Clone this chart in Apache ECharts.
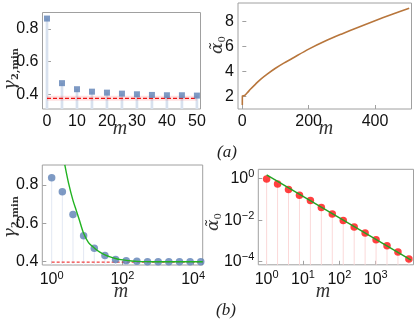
<!DOCTYPE html>
<html>
<head>
<meta charset="utf-8">
<script src="https://cdn.jsdelivr.net/npm/echarts@6/dist/echarts.min.js"></script>
<style>
html,body{margin:0;padding:0;background:#fff}
#chart{width:415px;height:321px}
</style>
</head>
<body>
<div id="chart"></div>
<script>
// (a) left : gamma_2,min against m
var mA = [0, 5, 10, 15, 20, 25, 30, 35, 40, 45, 50];
var gammaA = [0.863, 0.468, 0.431, 0.416, 0.410, 0.404, 0.400, 0.396, 0.394, 0.394, 0.392];
var limitA = 0.375;

// (a) right : alpha_0 against m
var mCurve = [0, 0.3, 7, 15, 25, 40, 55, 75, 100, 125, 150, 200, 250, 300, 350, 400, 450, 503];
var alphaCurve = [1.33, 2.05, 2.08, 2.3, 2.6, 3.0, 3.38, 3.8, 4.27, 4.68, 5.05, 5.8, 6.45, 7.02, 7.56, 8.08, 8.58, 9.08];

// (b) left : gamma_2,min against m (log)
var mB = [1, 2, 4, 8, 16, 32, 64, 128, 256, 512, 1024, 2048, 4096, 8192, 16384];
var gammaB = [0.838, 0.765, 0.646, 0.535, 0.470, 0.432, 0.412, 0.405, 0.402, 0.400, 0.400, 0.400, 0.400, 0.400, 0.400];
var fitMB = [2.35, 3, 4, 5, 6, 8, 11, 16, 23, 32, 45, 64, 90, 128, 181, 256, 512, 1024, 16384, 18600];
var fitGammaB = [0.905, 0.81, 0.72, 0.665, 0.62, 0.548, 0.50, 0.472, 0.45, 0.436, 0.425, 0.417, 0.411, 0.407, 0.404, 0.402, 0.4005, 0.4, 0.4, 0.4];
var limitB = 0.398;

// (b) right : alpha_0 against m (log-log)
var mB2 = [1, 2, 4, 8, 16, 32, 64, 128, 256, 512, 1024, 2048, 4096, 8192];
var alphaB = [0.96, 0.55, 0.30, 0.16, 0.088, 0.041, 0.020, 0.0096, 0.0047, 0.0024, 0.00114, 0.00058, 0.00029, 0.000135];
var fitMB2 = [1, 9400];
var fitAlphaB = [1.5, 0.00012];

var ticksXA = [0, 10, 20, 30, 40, 50];
var ticksGamma = [0.4, 0.6, 0.8];
var ticksXA2 = [0, 200, 400];
var ticksAlpha = [2, 4, 6, 8];
var ticksXB = [1, 100, 10000];
var ticksXB2 = [1, 10, 100, 1000];
var ticksAlphaB = [1, 0.01, 0.0001];

function pairs(xs, ys) {
  return xs.map(function (x, i) { return [x, ys[i]]; });
}

var frameColor = '#a0a0a0';
var tickFont = 'Liberation Sans';
var blue = '#5e81b5';

function powLabel(v) {
  var e = Math.round(Math.log(v) / Math.LN10);
  return '{b|10}{s|' + (e < 0 ? '\u2212' + (-e) : e) + '}';
}
var powRich = {
  b: {fontSize: 16, fontFamily: tickFont, color: '#111'},
  s: {fontSize: 11, fontFamily: tickFont, color: '#111', padding: [0, 0, 9, 0]}
};

function xAxisOf(gi, type, min, max, ticks, fmt) {
  var label = {customValues: ticks, fontSize: 16, fontFamily: tickFont, color: '#111', margin: 5};
  if (fmt) { label.formatter = fmt; label.rich = powRich; }
  return {
    type: type, gridIndex: gi, min: min, max: max,
    axisLine: {show: false}, splitLine: {show: false},
    axisTick: {customValues: ticks, inside: true, length: 4, lineStyle: {color: frameColor}},
    axisLabel: label
  };
}
function yAxisOf(gi, type, min, max, ticks, fmt) {
  var a = xAxisOf(gi, type, min, max, ticks, fmt);
  a.axisLabel.margin = 4;
  return a;
}

function stems(xi, data, color, width) {
  return {
    type: 'custom', xAxisIndex: xi, yAxisIndex: xi, data: data, silent: true, z: 1,
    encode: {x: 0, y: 1},
    renderItem: function (params, api) {
      var p = api.coord([api.value(0), api.value(1)]);
      var yb = params.coordSys.y + params.coordSys.height;
      return {type: 'line', shape: {x1: p[0], y1: p[1], x2: p[0], y2: yb},
        style: {stroke: color, lineWidth: width}};
    }
  };
}

function yName(x, y, main, sub, bold) {
  return {type: 'text', x: x, y: y, rotation: Math.PI / 2,
    style: {text: '{g|' + main + '}{s|' + sub + '}', align: 'center', verticalAlign: 'middle',
      rich: {g: {fontSize: 17, fontFamily: 'DejaVu Serif', fontStyle: 'italic', fill: '#333'},
             s: {fontSize: 10, fontFamily: 'DejaVu Serif', fontWeight: bold ? 'bold' : 'normal', fill: '#333', padding: [8, 0, 0, 0]}}}};
}
function mName(x, y) {
  return {type: 'text', x: x, y: y, style: {text: 'm', align: 'center', verticalAlign: 'middle',
    font: 'italic 20px "Liberation Serif"', fill: '#333'}};
}

var chart = echarts.init(document.getElementById('chart'));
var option = {
  animation: false,
  grid: [
    {left: 42.5, top: 12.5, width: 158, height: 96.5, show: true, borderColor: frameColor, borderWidth: 1},
    {left: 238, top: 3, width: 173.5, height: 106, show: true, borderColor: frameColor, borderWidth: 1},
    {left: 42.3, top: 165, width: 160.4, height: 100, show: true, borderColor: frameColor, borderWidth: 1},
    {left: 258.3, top: 169.3, width: 155.2, height: 95.5, show: true, borderColor: frameColor, borderWidth: 1}
  ],
  xAxis: [
    xAxisOf(0, 'value', -1.5, 51.2, ticksXA),
    xAxisOf(1, 'value', -13, 510, ticksXA2),
    xAxisOf(2, 'log', 0.543, 18600, ticksXB, powLabel),
    xAxisOf(3, 'log', 0.59, 10965, ticksXB2, powLabel)
  ],
  yAxis: [
    yAxisOf(0, 'value', 0.31, 0.9, ticksGamma, function (v) { return v.toFixed(1); }),
    yAxisOf(1, 'value', 1.0, 9.5, ticksAlpha),
    yAxisOf(2, 'value', 0.383, 0.904, ticksGamma, function (v) { return v.toFixed(1); }),
    yAxisOf(3, 'log', 0.000071, 2.8, ticksAlphaB, powLabel)
  ],
  series: [
    // (a) left
    stems(0, pairs(mA, gammaA), '#d8e1ee', 2.7),
    {type: 'line', xAxisIndex: 0, yAxisIndex: 0, data: [[0, limitA], [50, limitA]], symbol: 'none', z: 2,
      lineStyle: {color: 'rgba(255,0,0,0.12)', width: 5}},
    {type: 'line', xAxisIndex: 0, yAxisIndex: 0, data: [[0, limitA], [50, limitA]], symbol: 'none', z: 3,
      lineStyle: {color: '#ee1111', width: 1.3, type: [4, 2]}},
    {type: 'scatter', xAxisIndex: 0, yAxisIndex: 0, data: pairs(mA, gammaA), symbol: 'rect', symbolSize: 6, z: 4,
      itemStyle: {color: blue}},
    // (a) right
    {type: 'line', xAxisIndex: 1, yAxisIndex: 1, data: pairs(mCurve, alphaCurve), symbol: 'none', smooth: 0.3,
      lineStyle: {color: '#b8763c', width: 1.6}},
    // (b) left
    stems(2, pairs(mB, gammaB), '#e3e8f3', 1),
    {type: 'line', xAxisIndex: 2, yAxisIndex: 2, data: [[1, limitB], [18600, limitB]], symbol: 'none', z: 2,
      lineStyle: {color: '#ee1111', width: 1, type: [3, 2]}},
    {type: 'scatter', xAxisIndex: 2, yAxisIndex: 2, data: pairs(mB, gammaB), symbolSize: 7.5, z: 3,
      itemStyle: {color: blue}},
    {type: 'line', xAxisIndex: 2, yAxisIndex: 2, data: pairs(fitMB, fitGammaB), symbol: 'none', smooth: 0.3, z: 4,
      lineStyle: {color: '#22b322', width: 1.4}},
    // (b) right
    stems(3, pairs(mB2, alphaB), '#fbd9d9', 1),
    {type: 'scatter', xAxisIndex: 3, yAxisIndex: 3, data: pairs(mB2, alphaB), symbolSize: 7.5, z: 3,
      itemStyle: {color: '#ff1111'}},
    {type: 'line', xAxisIndex: 3, yAxisIndex: 3, data: pairs(fitMB2, fitAlphaB), symbol: 'none', z: 4,
      lineStyle: {color: '#22a322', width: 1.4}}
  ],
  graphic: [
    yName(11, 69, '\u03b3', '2,min', true),
    yName(11, 217, '\u03b3', '2,min', true),
    yName(218, 45, '\u03b1\u0303', '0', false),
    yName(214, 222, '\u03b1\u0303', '0', false),
    mName(120, 129),
    mName(326, 129),
    mName(121, 292),
    mName(323, 292),
    {type: 'text', x: 227, y: 153, style: {text: '(a)', align: 'center', verticalAlign: 'middle',
      font: 'italic 17px "Liberation Serif"', fill: '#222'}},
    {type: 'text', x: 226, y: 311, style: {text: '(b)', align: 'center', verticalAlign: 'middle',
      font: 'italic 17px "Liberation Serif"', fill: '#222'}}
  ]
};
chart.setOption(option);
</script>
</body>
</html>
